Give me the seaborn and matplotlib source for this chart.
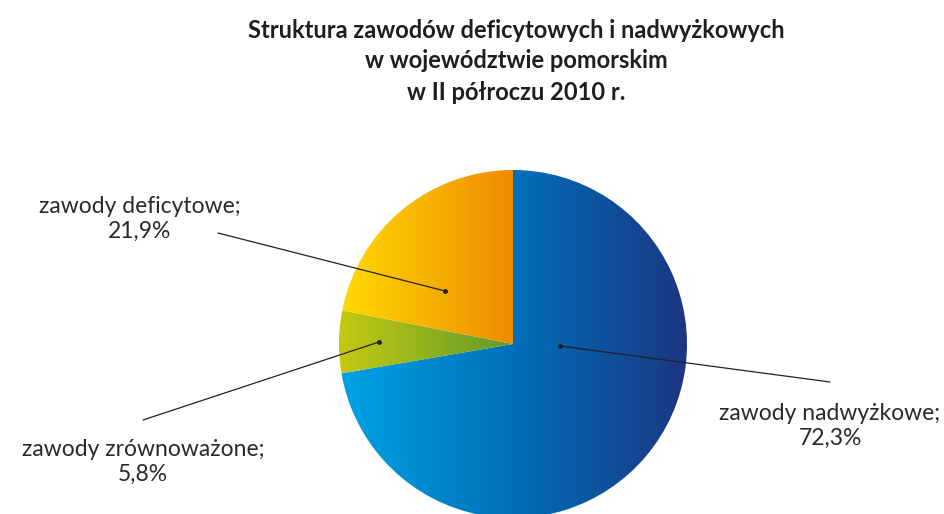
import numpy as np
import matplotlib
matplotlib.use("Agg")
import matplotlib.pyplot as plt
import seaborn as sns
from matplotlib.colors import LinearSegmentedColormap

sns.set_theme(style="white")
plt.rcParams['font.family'] = ['Lato', 'DejaVu Sans']

# ---- data ----
categories = ["zawody nadwyżkowe", "zawody zrównoważone", "zawody deficytowe"]
shares = [72.3, 5.8, 21.9]
share_labels = ["72,3%", "5,8%", "21,9%"]
gradients = [
    ["#00a3e6", "#0070b8", "#1b3683"],
    ["#c3ca12", "#5f9a2a"],
    ["#ffdb00", "#ef8b00"],
]
title = "Struktura zawodów deficytowych i nadwyżkowych\nw województwie pomorskim\nw II półroczu 2010 r."

W, H = 944, 514
fig = plt.figure(figsize=(W / 100, H / 100), dpi=100)
ax = fig.add_axes([0, 0, 1, 1])

def P(x, y):
    return x, H - y

cx, cy = P(513, 344)
R = 174

wedges, _ = ax.pie(shares, startangle=90, counterclock=False,
                   center=(cx, cy), radius=R, frame=True,
                   wedgeprops=dict(linewidth=0, edgecolor="white"))
ax.set_xlim(0, W)
ax.set_ylim(0, H)
ax.set_aspect("equal")
ax.axis("off")

for w, g in zip(wedges, gradients):
    cmap = LinearSegmentedColormap.from_list("g", g)
    grad = np.linspace(0, 1, 256).reshape(1, -1)
    w.set_facecolor("none")
    if len(g) == 3:
        ext = (cx - R, cx + R, cy - R, cy + R)
    else:
        ext = (cx - R, cx, cy - R, cy + R)
    im = ax.imshow(grad, cmap=cmap, extent=ext, aspect="auto", zorder=1,
                   interpolation="bilinear")
    im.set_clip_path(w)

ax.set_xlim(0, W)
ax.set_ylim(0, H)

# title
for i, line in enumerate(title.split("\n")):
    ax.text(*P(516, [30, 61, 93][i]), line, ha="center", va="center",
            fontsize=17, fontweight="bold", color="#1e1e1e")

# labels with leader lines
label_pos = [(830, 426), (143, 462), (140, 219)]
line_start = [(830, 382), (143, 420), (218, 233)]
line_end = [(560, 346), (379, 342), (445, 291)]
for cat, lab, lp, ls, le in zip(categories, share_labels, label_pos, line_start, line_end):
    ax.text(*P(*lp), f"{cat};\n{lab}", ha="center", va="center",
            fontsize=16.5, color="#2a2a2a", linespacing=1.2)
    xs = [P(*ls)[0], P(*le)[0]]
    ys = [P(*ls)[1], P(*le)[1]]
    ax.plot(xs, ys, color="#222222", lw=0.9, zorder=3)
    ax.plot([xs[1]], [ys[1]], "o", color="#222222", ms=2.5, zorder=3)

fig.savefig("out.png", dpi=100)
